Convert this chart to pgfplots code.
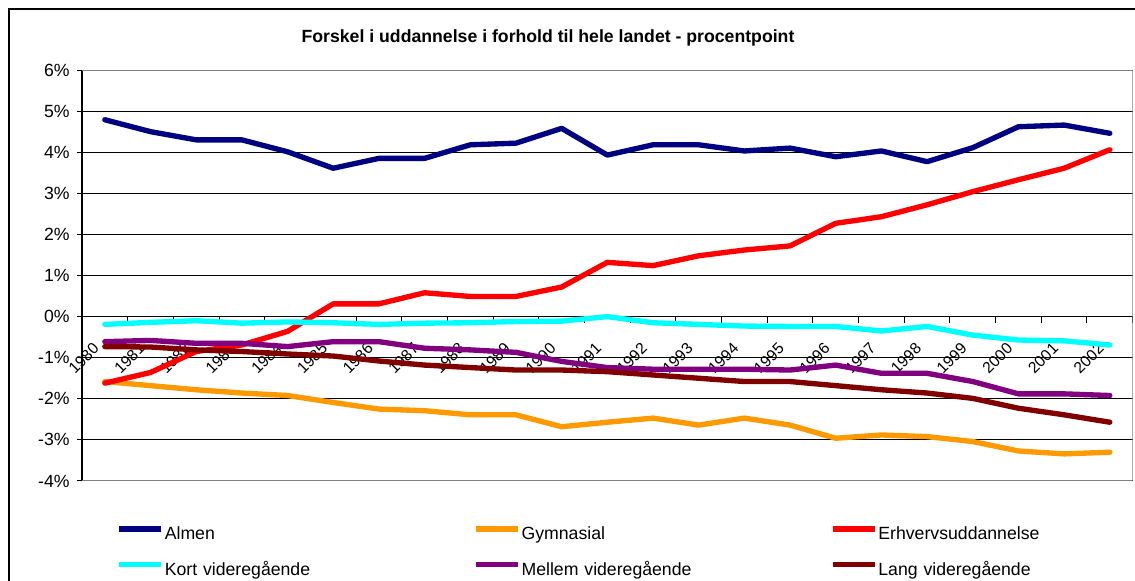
\documentclass[border=0pt]{standalone}
\usepackage{fontspec}
\setmainfont{Liberation Sans}
\usepackage{pgfplots}
\pgfplotsset{compat=1.18}
\definecolor{cAlmen}{HTML}{000080}
\definecolor{cGym}{HTML}{FF9900}
\definecolor{cErh}{HTML}{FF0000}
\definecolor{cKort}{HTML}{00FFFF}
\definecolor{cMellem}{HTML}{800080}
\definecolor{cLang}{HTML}{800000}
\definecolor{cBorder}{HTML}{808080}
\newcommand{\cf}{\fontsize{13.25}{15}\selectfont}
\newcommand{\xf}{\fontsize{11.8}{14}\selectfont}
\begin{document}
\begin{tikzpicture}
\useasboundingbox (0,0) rectangle (851.25pt,435.75pt);
\fill[white] (0,0) rectangle (851.25pt,435.75pt);
\draw[black, line width=1.1pt] (6.75pt,-2pt) -- (6.75pt,429pt) -- (860pt,429pt);
\node[font=\cf\bfseries] at (411pt,407.25pt) {Forskel i uddannelse i forhold til hele landet - procentpoint};
\begin{axis}[
  at={(61.5pt,75pt)}, anchor=south west,
  scale only axis, width=788pt, height=308.25pt,
  xmin=-0.5, xmax=22.5, ymin=-4, ymax=6,
  axis x line=middle, axis y line=left,
  axis line style={-, black, line width=0.9pt},
  every inner x axis line/.append style={-},
  every outer y axis line/.append style={-},
  tick align=outside,
  xtick={0,...,22},
  xticklabels={1980,1981,1982,1983,1984,1985,1986,1987,1988,1989,1990,1991,1992,1993,1994,1995,1996,1997,1998,1999,2000,2001,2002},
  minor xtick={-0.5,0.5,...,22.5},
  major x tick style={draw=none},
  minor x tick style={black, line width=0.75pt},
  minor tick length=4.5pt,
  major tick length=3.75pt,
  ytick={-4,-3,-2,-1,0,1,2,3,4,5,6},
  yticklabels={-4\%,-3\%,-2\%,-1\%,0\%,1\%,2\%,3\%,4\%,5\%,6\%},
  y tick style={black, line width=0.75pt},
  ymajorgrids,
  grid style={black, line width=0.75pt},
  tick label style={font=\cf},
  xticklabel style={font=\xf, xshift=-9.5pt, yshift=-15pt, rotate=45, anchor=north east, inner sep=0pt},
  yticklabel style={xshift=-2pt},
  every axis plot/.append style={line width=4pt, line cap=round, line join=round, mark=none},
  legend columns=3,
  legend cell align=left,
  legend image code/.code={\draw[#1, line cap=butt] (0pt,4.7pt) -- (31.5pt,4.7pt);},
  legend style={at={(0.0325,-0.1095)}, anchor=north west, draw=none, fill=none,
    inner sep=0pt, row sep=13.25pt, font=\cf,
    nodes={text width=230.5pt, inner xsep=0.8pt, inner ysep=0pt, text height=10pt, text depth=3pt}},
]
\draw[cBorder, line width=1.5pt] (rel axis cs:0,1) -- (rel axis cs:1,1) -- (rel axis cs:1,0) -- (rel axis cs:0,0);
\addplot[cAlmen] coordinates {(0,4.79) (1,4.50) (2,4.30) (3,4.30) (4,4.01) (5,3.61) (6,3.85) (7,3.85) (8,4.18) (9,4.22) (10,4.58) (11,3.93) (12,4.18) (13,4.18) (14,4.03) (15,4.10) (16,3.89) (17,4.03) (18,3.77) (19,4.11) (20,4.62) (21,4.66) (22,4.46)};
\addlegendentry{Almen}
\addplot[cGym] coordinates {(0,-1.58) (1,-1.68) (2,-1.78) (3,-1.86) (4,-1.92) (5,-2.09) (6,-2.25) (7,-2.29) (8,-2.39) (9,-2.39) (10,-2.68) (11,-2.57) (12,-2.47) (13,-2.64) (14,-2.47) (15,-2.64) (16,-2.96) (17,-2.88) (18,-2.92) (19,-3.04) (20,-3.27) (21,-3.34) (22,-3.30)};
\addlegendentry{Gymnasial}
\addplot[cErh] coordinates {(0,-1.62) (1,-1.36) (2,-0.85) (3,-0.69) (4,-0.36) (5,0.31) (6,0.31) (7,0.58) (8,0.49) (9,0.49) (10,0.72) (11,1.32) (12,1.24) (13,1.48) (14,1.62) (15,1.72) (16,2.27) (17,2.43) (18,2.72) (19,3.04) (20,3.33) (21,3.61) (22,4.06)};
\addlegendentry{Erhvervsuddannelse}
\addplot[cKort] coordinates {(0,-0.19) (1,-0.14) (2,-0.10) (3,-0.16) (4,-0.13) (5,-0.15) (6,-0.19) (7,-0.16) (8,-0.15) (9,-0.12) (10,-0.11) (11,0.00) (12,-0.15) (13,-0.19) (14,-0.23) (15,-0.24) (16,-0.24) (17,-0.35) (18,-0.24) (19,-0.45) (20,-0.57) (21,-0.59) (22,-0.69)};
\addlegendentry{Kort videregående}
\addplot[cMellem] coordinates {(0,-0.61) (1,-0.58) (2,-0.65) (3,-0.65) (4,-0.73) (5,-0.61) (6,-0.61) (7,-0.77) (8,-0.81) (9,-0.87) (10,-1.09) (11,-1.24) (12,-1.28) (13,-1.28) (14,-1.28) (15,-1.30) (16,-1.18) (17,-1.38) (18,-1.38) (19,-1.58) (20,-1.88) (21,-1.88) (22,-1.92)};
\addlegendentry{Mellem videregående}
\addplot[cLang] coordinates {(0,-0.73) (1,-0.74) (2,-0.81) (3,-0.85) (4,-0.91) (5,-0.96) (6,-1.08) (7,-1.18) (8,-1.24) (9,-1.30) (10,-1.30) (11,-1.34) (12,-1.42) (13,-1.50) (14,-1.58) (15,-1.58) (16,-1.68) (17,-1.78) (18,-1.86) (19,-1.99) (20,-2.23) (21,-2.39) (22,-2.57)};
\addlegendentry{Lang videregående}
\end{axis}
\end{tikzpicture}
\end{document}
